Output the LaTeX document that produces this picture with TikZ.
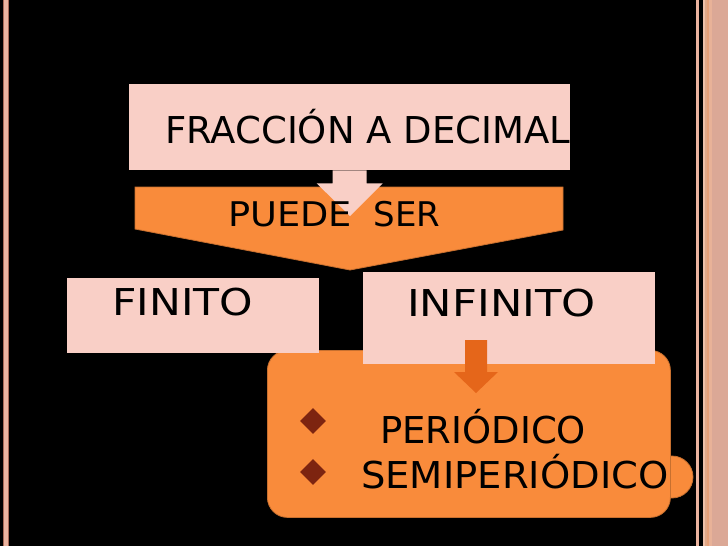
\documentclass[tikz,border=0pt]{standalone}
\usepackage{fontspec}
\setmainfont{DejaVu Sans}
\usetikzlibrary{shapes.geometric}
\definecolor{pinkbox}{HTML}{F9CFC6}
\definecolor{orangeA}{HTML}{F98B3B}
\definecolor{orangeEdge}{HTML}{C8702F}
\definecolor{darkarrow}{HTML}{E5661A}
\definecolor{bulletc}{HTML}{7D2410}
\definecolor{salmonA}{HTML}{EBB4A0}
\definecolor{salmonB}{HTML}{A86A58}
\definecolor{stripeA}{HTML}{EEC0A8}
\definecolor{stripeB}{HTML}{E0A888}
\definecolor{stripeC}{HTML}{E6A078}
\definecolor{stripeD}{HTML}{E8B298}
\definecolor{stripeE}{HTML}{DBA896}
\tikzset{
  pinkrect/.style={rectangle, fill=pinkbox, draw=none, inner sep=0pt, anchor=north west},
  txt/.style={anchor=base west, inner sep=0pt, text=black, font=\fontsize{37}{44}\selectfont},
  bulletmark/.style={diamond, fill=bulletc, minimum width=26pt, minimum height=26pt, inner sep=0pt},
}
\begin{document}
\begin{tikzpicture}[x=1pt,y=-1pt]
\useasboundingbox (0,0) rectangle (728,546);
\fill[black] (0,0) rectangle (728,546);
% left border line
\fill[salmonB] (3,0) rectangle (9,546);
\fill[salmonA] (4,0) rectangle (8,546);
% right border
\fill[salmonA] (696,0) rectangle (699,546);
\fill[stripeA] (703,0) rectangle (705,546);
\fill[stripeB] (705,0) rectangle (707,546);
\fill[stripeC] (707,0) rectangle (709,546);
\fill[stripeD] (709,0) rectangle (712,546);
\fill[stripeE] (712,0) rectangle (728,546);

% pentagon "PUEDE SER"
\coordinate (p1) at (135,187);
\coordinate (p2) at (563,187);
\coordinate (p3) at (563,230);
\coordinate (p4) at (350,270);
\coordinate (p5) at (135,229);
\fill[orangeA, draw=orangeEdge, line width=0.8pt] (p1) -- (p2) -- (p3) -- (p4) -- (p5) -- cycle;

% top box
\node[pinkrect, minimum width=441pt, minimum height=86pt] (top) at (129,84) {};
\node[txt] (toptxt) at (165,143) {FRACCIÓN A DECIMAL};
% pink block arrow from top box to pentagon
\fill[pinkbox] ([xshift=-17pt]top.south) -- ([xshift=-17pt,yshift=-13pt]top.south)
  -- ([xshift=-33pt,yshift=-13pt]top.south) -- (350,216)
  -- ([xshift=33pt,yshift=-13pt]top.south) -- ([xshift=17pt,yshift=-13pt]top.south)
  -- ([xshift=17pt]top.south) -- cycle;
\node[txt, font=\fontsize{34}{40}\selectfont] (puede) at (228,226) {\scalebox{1.08}[1]{PUEDE}\ \ SER};

% orange list box with small circle
\fill[orangeA, draw=orangeEdge, line width=0.8pt] (672,477) circle (21pt);
\node[rectangle, rounded corners=20pt, fill=orangeA, draw=orangeEdge, line width=0.8pt,
      minimum width=403pt, minimum height=167pt, anchor=north west, inner sep=0pt] (list) at (267,350) {};

% FINITO and INFINITO boxes
\node[pinkrect, minimum width=252pt, minimum height=75pt] (fin) at (67,278) {};
\node[txt] (fintxt) at (112,315) {\scalebox{1.15}[1]{FINITO}};
\node[pinkrect, minimum width=292pt, minimum height=92pt] (inf) at (363,272) {};
\node[txt] (inftxt) at (407,316) {\scalebox{1.17}[1]{INFINITO}};

% dark orange block arrow from INFINITO into list box
\coordinate (a0) at (476,340);
\fill[darkarrow] ([xshift=-11pt]a0) -- ([xshift=-11pt,yshift=-32pt]a0)
  -- ([xshift=-22pt,yshift=-32pt]a0) -- ([yshift=-53pt]a0)
  -- ([xshift=22pt,yshift=-32pt]a0) -- ([xshift=11pt,yshift=-32pt]a0)
  -- ([xshift=11pt]a0) -- cycle;

% bullets and list text
\node[bulletmark] (b1) at (313,421) {};
\node[bulletmark] (b2) at (313,472) {};
\node[txt] (per) at (380,443) {PERIÓDICO};
\node[txt] (semi) at (361,488) {\scalebox{1.04}[1]{SEMIPERIÓDICO}};
\end{tikzpicture}
\end{document}
